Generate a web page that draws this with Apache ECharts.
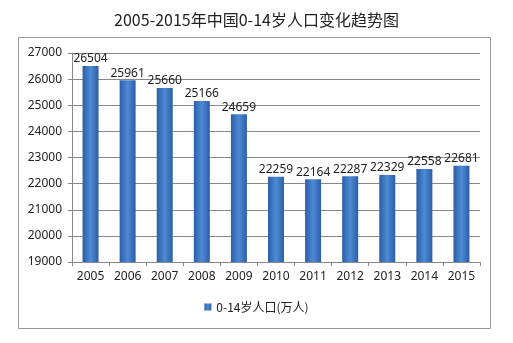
<!DOCTYPE html>
<html><head><meta charset="utf-8">
<script src="https://cdn.jsdelivr.net/npm/echarts@6/dist/echarts.min.js"></script>
<style>html,body{margin:0;padding:0;background:#fff}#c{width:513px;height:343px}</style>
</head><body><div id="c"></div>
<script>
const years = ['2005','2006','2007','2008','2009','2010','2011','2012','2013','2014','2015'];
const population = [26504,25961,25660,25166,24659,22259,22164,22287,22329,22558,22681];
const seriesName = '0-14岁人口(万人)';
const titleText = '2005-2015年中国0-14岁人口变化趋势图';

const chart = echarts.init(document.getElementById('c'));
const barColor = new echarts.graphic.LinearGradient(0,0,1,0,[
  {offset:0,color:'#2c5ea6'},{offset:0.5,color:'#4d8ad6'},{offset:1,color:'#2c5ea6'}]);
chart.setOption({
  animation:false,
  title:{text:titleText,left:'center',top:7,textStyle:{fontFamily:'Noto Sans CJK SC',fontWeight:'normal',fontSize:16,color:'#222'}},
  graphic:[{type:'rect',shape:{x:18.5,y:37.5,width:472,height:291},style:{fill:'none',stroke:'#999',lineWidth:1},z:-1}],
  grid:{left:72,right:33,top:53,bottom:81},
  legend:{bottom:25,left:'center',itemWidth:7,itemHeight:7,itemGap:4,icon:'rect',
    textStyle:{fontFamily:'Noto Sans CJK SC',fontSize:12,color:'#222'}},
  xAxis:{type:'category',data:years,
    axisLine:{lineStyle:{color:'#888'}},
    axisTick:{show:true,alignWithLabel:false,lineStyle:{color:'#888'},length:4},
    axisLabel:{fontFamily:'Noto Sans',fontSize:12,color:'#222',margin:9}},
  yAxis:{type:'value',min:19000,max:27000,interval:1000,
    axisLine:{show:true,lineStyle:{color:'#888'}},
    axisTick:{show:true,length:4,lineStyle:{color:'#888'}},
    splitLine:{lineStyle:{color:'#888'}},
    axisLabel:{fontFamily:'Noto Sans',fontSize:12,color:'#222',margin:10,formatter:v=>String(v)}},
  series:[{name:seriesName,type:'bar',data:population,barWidth:16,
    itemStyle:{color:barColor},
    label:{show:true,position:'top',distance:1,fontFamily:'Noto Sans',fontSize:12,color:'#222'}}]
});
</script></body></html>
